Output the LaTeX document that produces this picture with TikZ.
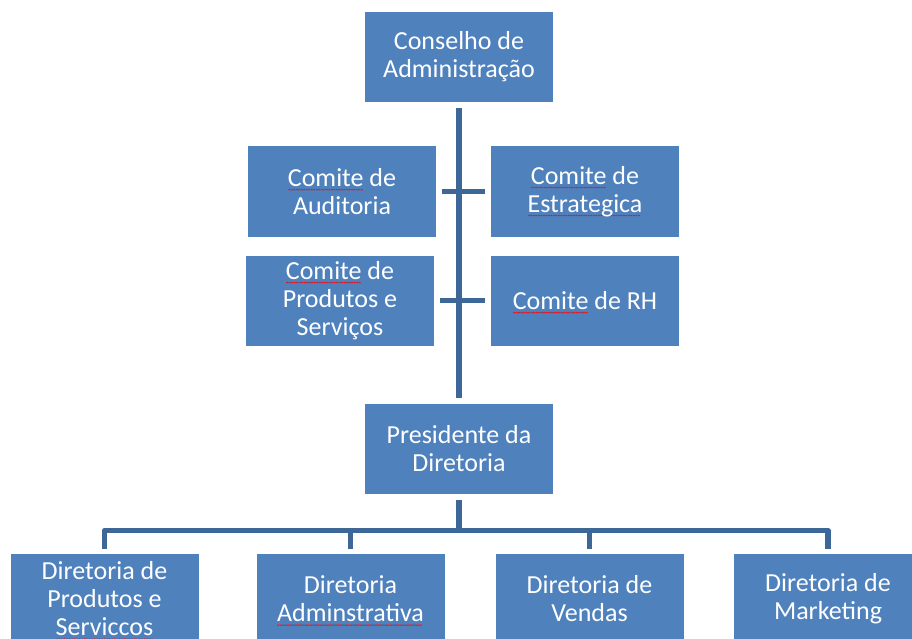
\documentclass[tikz,border=0pt]{standalone}
\usepackage{fontspec}
\setmainfont{Carlito}
\definecolor{boxblue}{HTML}{4F81BD}
\definecolor{lineblue}{HTML}{3C6797}
% red wavy spell-check mark
\newsavebox{\wavebox}
\newsavebox{\wordbox}
\newcommand{\spellmark}[1]{\sbox{\wordbox}{#1}\rlap{\raisebox{-4pt}[0pt][0pt]{\hbox to \wd\wordbox{\leaders\copy\wavebox\hfill}}}\usebox{\wordbox}}

\tikzstyle{bS}=[rectangle,minimum width=188pt,minimum height=90pt,inner sep=0pt,fill=boxblue,text=white,font=\fontsize{26}{28}\selectfont,align=center]
\tikzstyle{lS}=[draw=lineblue,line width=5.5pt,line join=round]

\begin{document}
\sbox{\wavebox}{\begin{pgfpicture}
  \pgfsetstrokecolor{red}\pgfsetlinewidth{0.5pt}
  \pgfpathmoveto{\pgfpoint{0pt}{0pt}}\pgfpathlineto{\pgfpoint{1pt}{1pt}}\pgfpathlineto{\pgfpoint{2pt}{0pt}}
  \pgfusepath{stroke}
  \end{pgfpicture}}
\begin{tikzpicture}[x=1pt,y=-1pt]
                \useasboundingbox (0,0) rectangle (912,639);
                \draw (459,57) node[bS] (c0) {Conselho de\\Administração};
                \draw (342,191.5) node[bS] (k1) {\spellmark{Comite} de\\Auditoria};
                \draw (585,191.5) node[bS] (k2) {\spellmark{Comite} de\\\spellmark{Estrategica}};
                \draw (340,300.5) node[bS] (k3) {\spellmark{Comite} de\\Produtos e\\Serviços};
                \draw (585,300.5) node[bS] (k4) {\spellmark{Comite} de RH};
                \draw (459,449) node[bS] (p0) {Presidente da\\Diretoria};
                \draw (104.5,599) node[bS] (d1) {Diretoria de\\Produtos e\\\spellmark{Serviccos}};
                \draw (350.5,599) node[bS] (d2) {Diretoria\\\spellmark{Adminstrativa}};
                \draw (589.5,599) node[bS] (d3) {Diretoria de\\Vendas};
                \draw (828,599) node[bS] (d4) {Diretoria de\\Marketing};
                \coordinate (bus) at (459,530.5);
                \path[lS]
                    ([yshift=-6pt]c0.south) -- ([yshift=6pt]p0.north)
                    ([xshift=6pt]k1.east) -- ([xshift=-6pt]k2.west)
                    ([xshift=6pt]k3.east) -- ([xshift=-6pt]k4.west)
                    ([yshift=-6pt]p0.south) -- (bus)
                    ([yshift=5pt]d1.north) -- (d1 |- bus) -- (d4 |- bus) -- ([yshift=5pt]d4.north)
                    (d2 |- bus) -- ([yshift=5pt]d2.north)
                    (d3 |- bus) -- ([yshift=5pt]d3.north)
                ;
        \end{tikzpicture}
\end{document}
